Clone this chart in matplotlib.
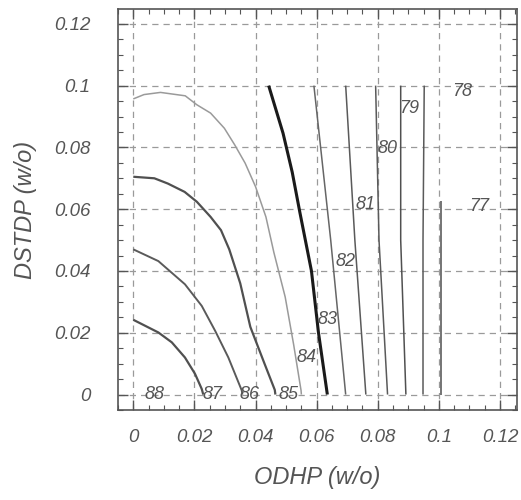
import matplotlib
matplotlib.use("Agg")
import matplotlib.pyplot as plt
from matplotlib.ticker import MultipleLocator, FixedLocator

# ---- data ----
tick_values = [0, 0.02, 0.04, 0.06, 0.08, 0.1, 0.12]
tick_labels = ["0", "0.02", "0.04", "0.06", "0.08", "0.1", "0.12"]

# contour boundaries (ODHP, DSTDP)
line_a_x = [0.0, 0.0038, 0.0082, 0.0126, 0.0169, 0.0202, 0.0224, 0.0229]
line_a_y = [0.0242, 0.0223, 0.0201, 0.0169, 0.0120, 0.0067, 0.0018, 0.0]
line_b_x = [0.0, 0.0082, 0.0169, 0.0224, 0.0268, 0.0311, 0.0355, 0.0357]
line_b_y = [0.0470, 0.0432, 0.0357, 0.0287, 0.0206, 0.0120, 0.0013, 0.0]
line_c_x = [0.0, 0.0069, 0.0113, 0.0168, 0.0208, 0.0253, 0.0287, 0.0314, 0.0350, 0.0383, 0.0429, 0.0463, 0.0465]
line_c_y = [0.0705, 0.0700, 0.0683, 0.0656, 0.0624, 0.0575, 0.0532, 0.0470, 0.0360, 0.0219, 0.0101, 0.0015, 0.0]
line_d_x = [0.0, 0.0035, 0.0089, 0.0170, 0.0208, 0.0253, 0.0298, 0.0332, 0.0366, 0.0400, 0.0434, 0.0460, 0.0497, 0.0525, 0.0549, 0.0550]
line_d_y = [0.0957, 0.0971, 0.0978, 0.0967, 0.0938, 0.0911, 0.0862, 0.0808, 0.0749, 0.0673, 0.0575, 0.0460, 0.0316, 0.0160, 0.0013, 0.0]
line_e_x = [0.0443, 0.0490, 0.0520, 0.0545, 0.0565, 0.0583, 0.0606, 0.0635]
line_e_y = [0.1, 0.0846, 0.0720, 0.0590, 0.0490, 0.0400, 0.0200, 0.0]
line_f_x = [0.0591, 0.0646, 0.0695]
line_f_y = [0.1, 0.05, 0.0]
line_g_x = [0.0695, 0.0725, 0.0761]
line_g_y = [0.1, 0.05, 0.0]
line_h_x = [0.0793, 0.0804, 0.0832]
line_h_y = [0.1, 0.05, 0.0]
line_i_x = [0.0875, 0.0875, 0.0892]
line_i_y = [0.1, 0.05, 0.0]
line_j_x = [0.0952, 0.0948, 0.0948]
line_j_y = [0.1, 0.05, 0.0]
line_k_x = [0.1006, 0.1006]
line_k_y = [0.0626, 0.0]

label_text = ["88", "87", "86", "85", "84", "83", "82", "81", "80", "79", "78", "77"]
label_x = [0.0070, 0.0260, 0.0380, 0.0508, 0.0568, 0.0635, 0.0695, 0.0761, 0.0832, 0.0903, 0.1077, 0.1131]
label_y = [0.0, 0.0, 0.0, 0.0, 0.012, 0.0244, 0.0432, 0.0615, 0.0798, 0.0927, 0.0980, 0.0610]

# ---- figure ----
FONT = "Liberation Sans"
TXT = "#555555"
fig = plt.figure(figsize=(5.21, 5.0), dpi=100)
ax = fig.add_axes([0.2265, 0.18, 0.7655, 0.802])

ax.set_xlim(-0.005, 0.1255)
ax.set_ylim(-0.005, 0.1248)

# grid
for v in tick_values:
    ax.axvline(v, color="#9a9a9a", lw=0.9, ls=(0, (5, 4)), zorder=1)
    ax.axhline(v, color="#9a9a9a", lw=0.9, ls=(0, (5, 4)), zorder=1)

styles = [
    (line_a_x, line_a_y, "#505050", 1.6),
    (line_b_x, line_b_y, "#5a5a5a", 1.4),
    (line_c_x, line_c_y, "#505050", 1.6),
    (line_d_x, line_d_y, "#9a9a9a", 1.1),
    (line_e_x, line_e_y, "#1a1a1a", 2.2),
    (line_f_x, line_f_y, "#666666", 1.1),
    (line_g_x, line_g_y, "#5a5a5a", 1.1),
    (line_h_x, line_h_y, "#5a5a5a", 1.1),
    (line_i_x, line_i_y, "#505050", 1.1),
    (line_j_x, line_j_y, "#5a5a5a", 1.1),
    (line_k_x, line_k_y, "#505050", 1.1),
]
for xs, ys, c, w in styles:
    ax.plot(xs, ys, color=c, lw=w, zorder=3, solid_capstyle="butt", solid_joinstyle="round")

for t, x, y in zip(label_text, label_x, label_y):
    ax.text(x, y, t, ha="center", va="center", fontsize=13, style="italic",
            color=TXT, family=FONT, zorder=4)

# ticks
ax.xaxis.set_major_locator(FixedLocator(tick_values))
ax.yaxis.set_major_locator(FixedLocator(tick_values))
ax.set_xticklabels(tick_labels)
ax.set_yticklabels(tick_labels)
ax.xaxis.set_minor_locator(MultipleLocator(0.005))
ax.yaxis.set_minor_locator(MultipleLocator(0.005))
ax.tick_params(which="both", direction="in", top=True, right=True, color="#555555")
ax.tick_params(which="major", length=7, width=1.0)
ax.tick_params(which="minor", length=3.5, width=0.8)
ax.tick_params(axis="x", which="major", pad=14)
ax.tick_params(axis="y", which="major", pad=20)
for lab in ax.get_xticklabels() + ax.get_yticklabels():
    lab.set_fontfamily(FONT)
    lab.set_fontstyle("italic")
    lab.set_fontsize(13.5)
    lab.set_color(TXT)

for s in ax.spines.values():
    s.set_color("#555555")
    s.set_linewidth(1.2)

ax.set_xlabel("ODHP (w/o)", fontsize=17, style="italic", family=FONT, color=TXT, labelpad=14)
ax.set_ylabel("DSTDP (w/o)", fontsize=17, style="italic", family=FONT, color=TXT, labelpad=12)

fig.savefig("out.png", dpi=100, facecolor="white")
